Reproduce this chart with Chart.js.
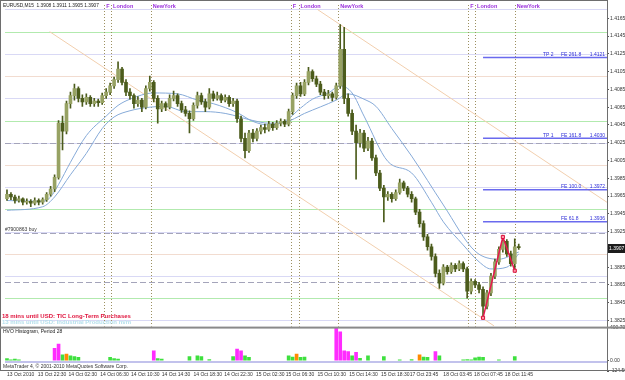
<!DOCTYPE html>
<html><head><meta charset="utf-8">
<script src="https://cdn.jsdelivr.net/npm/chart.js@4.4.1/dist/chart.umd.min.js"></script>
<style>html,body{margin:0;padding:0;background:#fff;}canvas{display:block;}</style>
</head><body>
<canvas id="c" width="625" height="380"></canvas>
<script>
// ---------- DATA ----------
const opens = [1.3962,1.3967,1.3964,1.3960,1.3962,1.3958,1.3959,1.3957,1.3960,1.3958,
1.3961,1.3967,1.3973,1.3986,1.4047,1.4038,1.4069,1.4078,1.4086,1.4075,
1.4071,1.4076,1.4069,1.4072,1.4070,1.4078,1.4082,1.4089,1.4096,1.4108,
1.4093,1.4082,1.4078,1.4069,1.4073,1.4065,1.4086,1.4093,1.4075,1.4063,
1.4069,1.4065,1.4075,1.4078,1.4069,1.4062,1.4058,1.4052,1.4067,1.4078,
1.4071,1.4065,1.4080,1.4075,1.4078,1.4073,1.4076,1.4069,1.4072,1.4052,
1.4030,1.4016,1.4036,1.4030,1.4038,1.4042,1.4040,1.4046,1.4042,1.4047,
1.4049,1.4046,1.4060,1.4078,1.4089,1.4080,1.4093,1.4105,1.4097,1.4091,
1.4082,1.4078,1.4080,1.4076,1.4089,1.4130,1.4075,1.4058,1.4038,1.4025,
1.4036,1.4019,1.4027,1.4008,1.3991,1.3974,1.3964,1.3967,1.3962,1.3969,
1.3980,1.3974,1.3967,1.3962,1.3947,1.3934,1.3919,1.3908,1.3897,1.3878,
1.3867,1.3885,1.3880,1.3887,1.3883,1.3889,1.3883,1.3858,1.3869,1.3865,
1.3860,1.3841,1.3856,1.3875,1.3891,1.3905,1.3914,1.3900,1.3889,1.3908];
const highs = [1.3972,1.3969,1.3966,1.3965,1.3963,1.3962,1.3961,1.3963,1.3962,1.3963,
1.3969,1.3976,1.3989,1.4050,1.4055,1.4072,1.4082,1.4091,1.4088,1.4079,
1.4080,1.4078,1.4075,1.4074,1.4081,1.4086,1.4092,1.4099,1.4116,1.4110,
1.4096,1.4086,1.4080,1.4077,1.4075,1.4089,1.4100,1.4095,1.4078,1.4072,
1.4071,1.4079,1.4083,1.4080,1.4072,1.4066,1.4061,1.4070,1.4082,1.4081,
1.4074,1.4086,1.4083,1.4082,1.4080,1.4079,1.4078,1.4075,1.4074,1.4055,
1.4036,1.4039,1.4040,1.4041,1.4045,1.4046,1.4049,1.4048,1.4050,1.4052,
1.4051,1.4063,1.4081,1.4092,1.4093,1.4096,1.4110,1.4107,1.4100,1.4094,
1.4085,1.4084,1.4082,1.4092,1.4158,1.4155,1.4080,1.4062,1.4045,1.4040,
1.4039,1.4031,1.4030,1.4011,1.3994,1.3977,1.3970,1.3969,1.3972,1.3984,
1.3982,1.3976,1.3970,1.3964,1.3950,1.3937,1.3922,1.3911,1.3900,1.3882,
1.3888,1.3887,1.3890,1.3889,1.3892,1.3891,1.3885,1.3872,1.3871,1.3868,
1.3863,1.3859,1.3878,1.3894,1.3908,1.3919,1.3916,1.3903,1.3917,1.3911];
const lows = [1.3960,1.3961,1.3957,1.3958,1.3955,1.3956,1.3953,1.3955,1.3955,1.3956,
1.3959,1.3965,1.3970,1.3984,1.4017,1.4035,1.4064,1.4073,1.4071,1.4066,
1.4068,1.4066,1.4066,1.4066,1.4068,1.4075,1.4079,1.4086,1.4093,1.4090,
1.4078,1.4074,1.4064,1.4066,1.4060,1.4063,1.4083,1.4071,1.4047,1.4060,
1.4061,1.4063,1.4072,1.4066,1.4059,1.4055,1.4036,1.4050,1.4064,1.4068,
1.4060,1.4063,1.4072,1.4073,1.4070,1.4071,1.4066,1.4066,1.4048,1.4026,
1.4008,1.4014,1.4026,1.4027,1.4035,1.4036,1.4038,1.4039,1.4040,1.4044,
1.4043,1.4044,1.4057,1.4075,1.4077,1.4078,1.4090,1.4094,1.4088,1.4079,
1.4074,1.4075,1.4072,1.4074,1.4086,1.4069,1.4055,1.4034,1.3984,1.4020,
1.4015,1.4016,1.4005,1.3988,1.3971,1.3936,1.3960,1.3958,1.3960,1.3967,
1.3971,1.3964,1.3958,1.3944,1.3930,1.3915,1.3904,1.3893,1.3874,1.3861,
1.3865,1.3877,1.3878,1.3880,1.3881,1.3880,1.3850,1.3855,1.3862,1.3856,
1.3828,1.3838,1.3853,1.3872,1.3888,1.3902,1.3897,1.3886,1.3881,1.3905];
const closes = [1.3967,1.3964,1.3960,1.3962,1.3958,1.3959,1.3957,1.3960,1.3958,1.3961,
1.3967,1.3973,1.3986,1.4047,1.4038,1.4069,1.4078,1.4086,1.4075,1.4071,
1.4076,1.4069,1.4072,1.4070,1.4078,1.4082,1.4089,1.4096,1.4108,1.4093,
1.4082,1.4078,1.4069,1.4073,1.4065,1.4086,1.4093,1.4075,1.4063,1.4069,
1.4065,1.4075,1.4078,1.4069,1.4062,1.4058,1.4052,1.4067,1.4078,1.4071,
1.4065,1.4080,1.4075,1.4078,1.4073,1.4076,1.4069,1.4072,1.4052,1.4030,
1.4016,1.4036,1.4030,1.4038,1.4042,1.4040,1.4046,1.4042,1.4047,1.4049,
1.4046,1.4060,1.4078,1.4089,1.4080,1.4093,1.4105,1.4097,1.4091,1.4082,
1.4078,1.4080,1.4076,1.4089,1.4130,1.4075,1.4058,1.4038,1.4025,1.4036,
1.4019,1.4027,1.4008,1.3991,1.3974,1.3964,1.3967,1.3962,1.3969,1.3980,
1.3974,1.3967,1.3962,1.3947,1.3934,1.3919,1.3908,1.3897,1.3878,1.3867,
1.3885,1.3880,1.3887,1.3883,1.3889,1.3883,1.3858,1.3869,1.3865,1.3860,
1.3841,1.3856,1.3875,1.3891,1.3905,1.3914,1.3900,1.3889,1.3908,1.3907];

// moving averages: [bar index, price]
const maFast = [[0,1.3960],[9,1.3959],[11,1.3964],[13,1.3978],[16,1.4003],[20,1.4033],[25,1.4055],[28,1.4067],[31,1.4074],[37,1.4081],[43,1.4080],[48,1.4073],[52,1.4069],[58,1.4059],[62,1.4049],[66,1.4045],[70,1.4049],[74,1.4064],[77,1.4074],[81,1.4081],[84,1.4089],[87,1.4081],[90,1.4055],[96,1.4004],[102,1.3991],[107,1.3958],[110,1.3936],[115,1.3910],[119,1.3891],[122,1.3883],[126,1.3885],[129,1.3900]];
const maSlow = [[0,1.3949],[9,1.3953],[12,1.3964],[16,1.3989],[20,1.4013],[24,1.4041],[27,1.4054],[31,1.4061],[36,1.4065],[40,1.4066],[45,1.4060],[50,1.4060],[55,1.4058],[62,1.4050],[66,1.4047],[70,1.4048],[75,1.4058],[83,1.4073],[86,1.4080],[90,1.4074],[93,1.4066],[97,1.4041],[102,1.4010],[110,1.3955],[118,1.3903],[124,1.3894],[129,1.3902]];

// trend channel lines
const channelLow = [[10.75,1.4150],[122.75,1.3819]];
const channelHigh = [[78.25,1.4175],[151.25,1.3958]];

// fibo expansion zigzag and levels
const zigzag = [[120,1.3828],[125,1.3919],[128,1.3881]];
const fiboLevels = [1.4121,1.4030,1.3972,1.3936];
const fiboTags = ['TP 2','TP 1','',''];
const fiboNames = ['FE 261.8','FE 161.8','FE 100.0','FE 61.8'];
const fiboStart = 120;

// horizontal levels
const greenLevels = [1.4150,1.4050,1.3950,1.3850];
const lavenderLevels = [1.4175,1.4125,1.4075,1.4025,1.3975,1.3925,1.3875,1.3825];
const pinkLevels = [1.4100,1.4000,1.3900];
const orderLevels = [1.4025,1.3924,1.3868];

// sessions
const sessionPos = [24.5,26.25,36.25,71.5,73.5,83.5,116.25,118,128];
const sessionNames = ['F','London','NewYork','F','London','NewYork','F','London','NewYork'];

// HVO histogram
const hvoIdx = [0,1,2,3,12,13,14,15,16,17,18,26,27,28,37,38,39,46,48,49,51,57,58,59,60,61,71,72,73,74,75,83,84,85,86,87,88,89,91,95,99,102,104,105,106,108,109,115,116,117,118,119,120,124,128];
const hvoVal = [25,12,20,10,150,200,70,80,60,50,40,40,25,20,120,25,20,50,60,50,15,50,140,120,60,40,60,45,80,40,45,400,350,120,110,60,100,30,60,50,10,15,70,45,40,110,60,10,15,10,35,45,40,10,50];
const hvoKind = ['g','g','g','g','m','m','g','o','g','g','g','g','g','g','m','g','g','g','g','g','g','g','m','m','g','g','g','g','o','g','g','m','m','m','m','g','m','g','g','g','g','g','o','g','g','m','g','g','g','g','g','g','g','g','g'];

// axes
const priceTicks = [1.4165,1.4145,1.4125,1.4105,1.4085,1.4065,1.4045,1.4025,1.4005,1.3985,1.3965,1.3945,1.3925,1.3905,1.3885,1.3865,1.3845,1.3825];
const hvoTicks = [400.708,0,-124.563];
const hvoTickLabels = ['400.708','0.00','-124.563'];
const timeTickPos = [0,7.75,15.5,23.5,31.25,39,47,54.75,62.75,70.25,78.25,86.25,94.25,101.5,110,117.75,125.5];
const timeLabels = ['13 Oct 2010','13 Oct 22:30','14 Oct 02:30','14 Oct 06:30','14 Oct 10:30','14 Oct 14:30','14 Oct 18:30','14 Oct 22:30','15 Oct 02:30','15 Oct 06:30','15 Oct 10:30','15 Oct 14:30','15 Oct 18:30','17 Oct 23:45','18 Oct 03:45','18 Oct 07:45','18 Oct 11:45'];

const titleText = 'EURUSD,M15  1.3908 1.3911 1.3905 1.3907';
const orderText = '#7900863 buy';
const newsText1 = '18 mins until USD: TIC Long-Term Purchases';
const newsText2 = '13 mins until USD: Industrial Production m/m';
const hvoTitle = 'HVO Histogram, Period 28';
const copyText = 'MetaTrader 4, \u00a9 2001-2010 MetaQuotes Software Corp.';

// ---------- CHART ----------
const FONT = '"Liberation Sans", Arial, sans-serif';
const pts = a => a.map(p => ({x: p[0], y: p[1]}));
const bull = closes.map((c, i) => c >= opens[i]);

const overlay = {
  id: 'overlay',
  beforeDatasetsDraw(chart) {
    const {ctx, chartArea: a, scales: {x, y, y2}} = chart;
    ctx.save();
    ctx.lineWidth = 1;
    const hline = (p, color, dash) => {
      const py = Math.round(y.getPixelForValue(p)) + 0.5;
      ctx.strokeStyle = color; ctx.setLineDash(dash || []);
      ctx.beginPath(); ctx.moveTo(a.left, py); ctx.lineTo(a.right, py); ctx.stroke();
    };
    lavenderLevels.forEach(p => hline(p, '#d9d9f5'));
    pinkLevels.forEach(p => hline(p, '#f2dcd0'));
    greenLevels.forEach(p => hline(p, '#b2eaae'));
    orderLevels.forEach(p => hline(p, '#a4a4ba', [6, 3]));
    ctx.setLineDash([1, 2]); ctx.strokeStyle = '#9c9060';
    sessionPos.forEach(s => {
      const px = Math.round(x.getPixelForValue(s)) + 0.5;
      ctx.beginPath(); ctx.moveTo(px, y.top); ctx.lineTo(px, y.bottom - 1); ctx.stroke();
    });
    ctx.setLineDash([]);
    const zy = y2.getPixelForValue(0);
    ctx.fillStyle = '#c2c2ec';
    ctx.fillRect(a.left, Math.round(zy), a.right - a.left, 2);
    ctx.restore();
  },
  afterDraw(chart) {
    const {ctx, chartArea: a, scales: {x, y, y2}} = chart;
    ctx.save();
    ctx.textBaseline = 'middle';
    ctx.font = '4.8px ' + FONT; ctx.fillStyle = '#1a1a1a'; ctx.textAlign = 'left';
    ctx.fillText(titleText, 3, 6);
    ctx.font = 'bold 5.5px ' + FONT; ctx.fillStyle = '#9a30dc';
    sessionPos.forEach((s, k) => {
      ctx.fillText(sessionNames[k], x.getPixelForValue(s) + 2, 6);
    });
    ctx.font = '5px ' + FONT; ctx.fillStyle = '#333';
    ctx.fillText(orderText, 5, y.getPixelForValue(orderLevels[1]) - 3);
    ctx.font = 'bold 6px ' + FONT; ctx.fillStyle = '#e0153e';
    ctx.fillText(newsText1, 2, 316);
    ctx.font = 'bold 6px ' + FONT; ctx.fillStyle = '#b6e0ec';
    ctx.fillText(newsText2, 2, 322.5);
    ctx.font = '5px ' + FONT; ctx.fillStyle = '#3030d8'; ctx.textBaseline = 'bottom';
    fiboLevels.forEach((lv, k) => {
      const py = y.getPixelForValue(lv) - 0.5;
      ctx.textAlign = 'left';
      if (fiboTags[k]) ctx.fillText(fiboTags[k], 543, py);
      ctx.fillText(fiboNames[k], 561, py);
      ctx.textAlign = 'right';
      ctx.fillText(lv.toFixed(4), 605, py);
    });
    ctx.fillStyle = '#6e6e6e';
    ctx.fillRect(0, 0, 1, a.bottom);
    ctx.fillRect(a.right, 0, 1, a.bottom);
    ctx.fillRect(0, 0, a.right, 1);
    ctx.fillStyle = '#8a8a8a';
    ctx.fillRect(0, y.bottom - 1, 625, 2);
    ctx.fillStyle = '#6e6e6e';
    ctx.fillRect(0, a.bottom - 1, 625, 1);
    ctx.textBaseline = 'middle'; ctx.textAlign = 'left';
    ctx.font = '5px ' + FONT; ctx.fillStyle = '#222';
    ctx.fillText(hvoTitle, 3, y2.top + 4);
    ctx.fillStyle = '#333';
    ctx.fillText(copyText, 3, a.bottom - 4);
    const last = closes[closes.length - 1];
    const py = Math.round(y.getPixelForValue(last));
    ctx.fillStyle = '#1c1c1c';
    ctx.fillRect(a.right + 1, py - 4, 18, 9);
    ctx.fillStyle = '#ffffff'; ctx.font = '5px ' + FONT;
    ctx.fillText(last.toFixed(4), a.right + 2, py + 0.5);
    ctx.restore();
  }
};

const yFit = s => { s.width = 18; s.paddingTop = 0; s.paddingBottom = 0; };
const noGrid = { display: false, drawTicks: false, tickLength: 0 };
const yGrid = { display: true, drawOnChartArea: false, drawTicks: true, tickLength: 2, color: '#555' };

new Chart(document.getElementById('c'), {
  type: 'bar',
  data: {
    datasets: [
      { type: 'line', order: 0, data: pts(zigzag), borderColor: '#e8174f', borderWidth: 1.5,
        pointStyle: 'rect', pointRadius: 2.2, pointBackgroundColor: '#ff98a8', pointBorderColor: '#d8103c', pointBorderWidth: 1, tension: 0, yAxisID: 'y' },
      { type: 'bar', order: 1, grouped: false, yAxisID: 'y', barThickness: 3, minBarLength: 1,
        data: opens.map((o, i) => ({x: i, y: [o, closes[i]]})),
        backgroundColor: bull.map(b => b ? '#97a263' : '#4c5c1c'), borderWidth: 0 },
      { type: 'bar', order: 2, grouped: false, yAxisID: 'y', barThickness: 1,
        data: lows.map((l, i) => ({x: i, y: [l, highs[i]]})), backgroundColor: '#4c5c1c' },
      { type: 'line', order: 3, data: pts(maFast), borderColor: '#86aad8', borderWidth: 1, pointRadius: 0, cubicInterpolationMode: 'monotone', yAxisID: 'y' },
      { type: 'line', order: 3, data: pts(maSlow), borderColor: '#86aad8', borderWidth: 1, pointRadius: 0, cubicInterpolationMode: 'monotone', yAxisID: 'y' },
      ...fiboLevels.map(lv => ({ type: 'line', order: 4, data: [{x: fiboStart, y: lv}, {x: 151.25, y: lv}],
        borderColor: '#6a6aee', borderWidth: 1.5, pointRadius: 0, yAxisID: 'y' })),
      { type: 'line', order: 5, data: pts(channelLow), borderColor: '#f2cfae', borderWidth: 1, pointRadius: 0, yAxisID: 'y' },
      { type: 'line', order: 5, data: pts(channelHigh), borderColor: '#f2cfae', borderWidth: 1, pointRadius: 0, yAxisID: 'y' },
      { type: 'bar', order: 6, grouped: false, yAxisID: 'y2', barThickness: 3,
        data: hvoIdx.map((xi, k) => ({x: xi, y: hvoVal[k]})),
        backgroundColor: hvoKind.map(k => k === 'm' ? '#ff2cff' : (k === 'o' ? '#ff8a00' : '#3ee03e')) }
    ]
  },
  options: {
    responsive: false, animation: false, devicePixelRatio: 1, events: [],
    layout: { padding: 0 },
    plugins: { legend: { display: false }, tooltip: { enabled: false } },
    scales: {
      x: { type: 'linear', min: -0.5, max: 151.25, offset: false,
        grid: noGrid, border: { display: false },
        ticks: { autoSkip: false, align: 'start', padding: 1, maxRotation: 0, minRotation: 0,
          color: '#333', font: { size: 5, family: FONT },
          callback: (v, i) => timeLabels[i] },
        afterBuildTicks: s => { s.ticks = timeTickPos.map(v => ({value: v})); },
        afterFit: s => { s.height = 9; s.paddingLeft = 0; s.paddingRight = 0; } },
      y: { type: 'linear', position: 'right', stack: 'win', stackWeight: 327, min: 1.3817, max: 1.4180,
        grid: yGrid, border: { display: false },
        ticks: { autoSkip: false, padding: 1, color: '#333', font: { size: 5, family: FONT },
          callback: v => Number(v).toFixed(4) },
        afterBuildTicks: s => { s.ticks = priceTicks.map(v => ({value: v})); },
        afterFit: yFit },
      y2: { type: 'linear', position: 'right', stack: 'win', stackWeight: 44, min: -124.563, max: 400.708,
        grid: yGrid, border: { display: false },
        ticks: { autoSkip: false, padding: 1, color: '#333', font: { size: 5, family: FONT },
          callback: (v, i) => hvoTickLabels[i] },
        afterBuildTicks: s => { s.ticks = hvoTicks.map(v => ({value: v})); },
        afterFit: yFit }
    }
  },
  plugins: [overlay]
});
</script>
</body></html>
